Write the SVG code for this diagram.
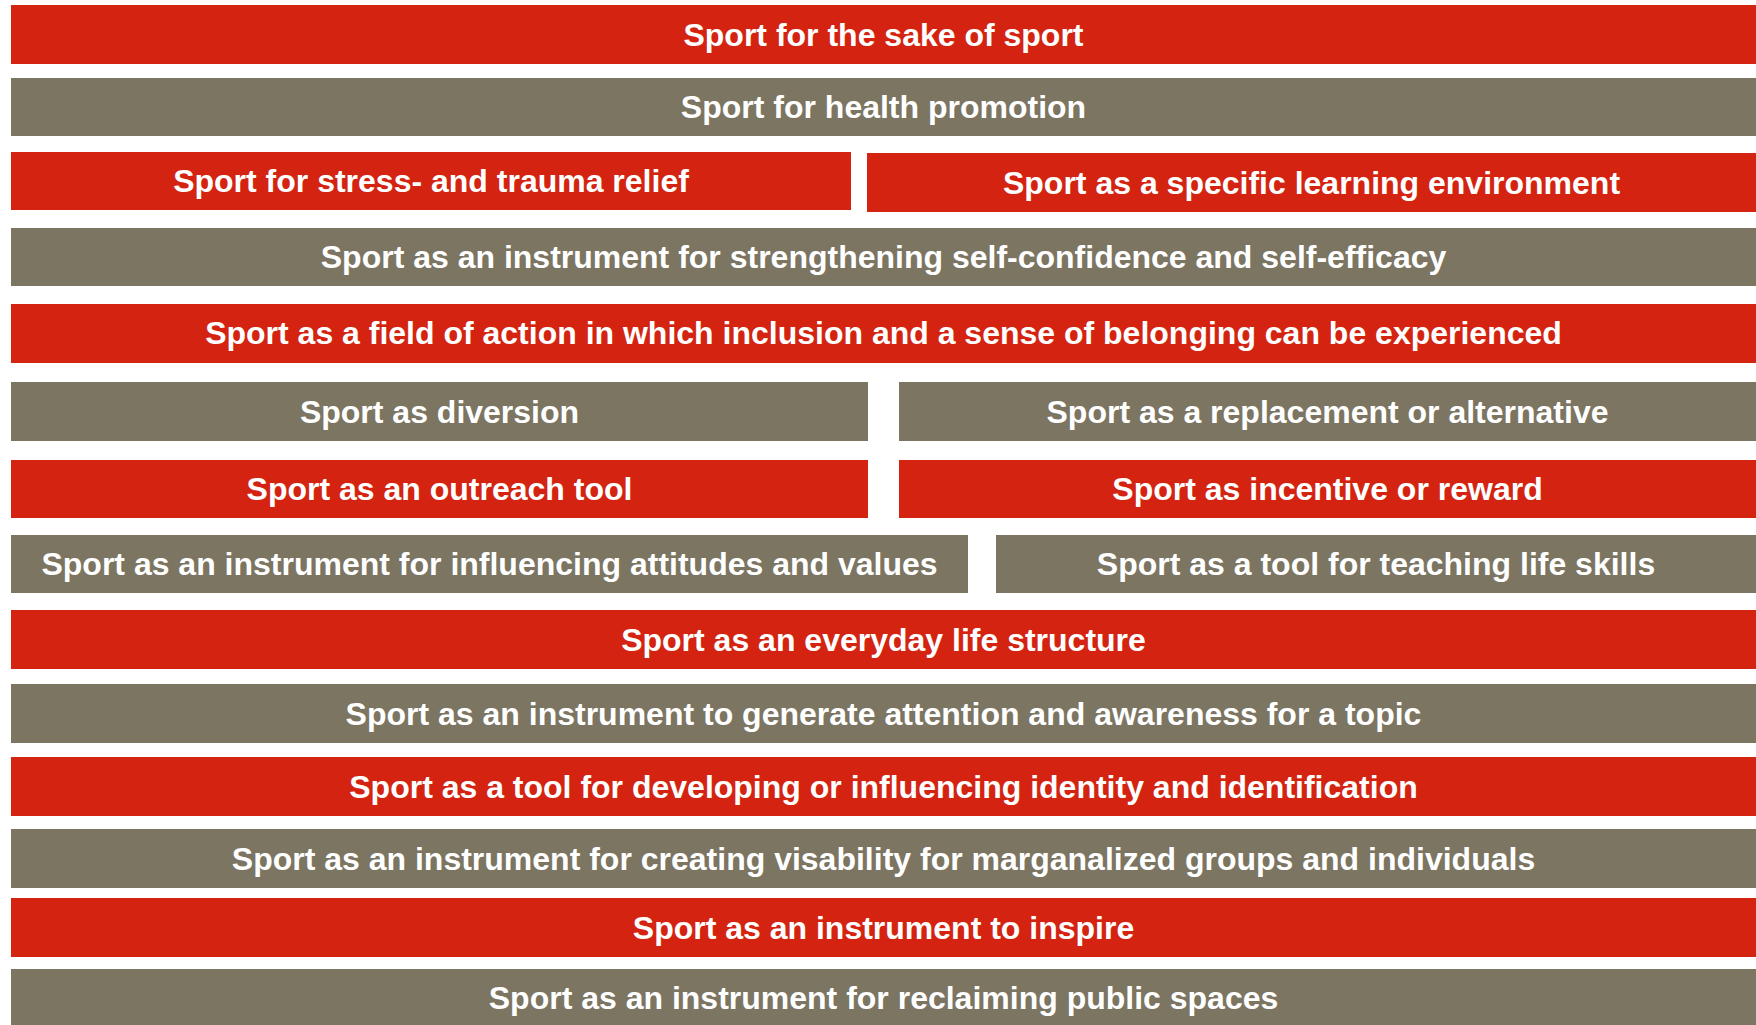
<svg xmlns="http://www.w3.org/2000/svg" width="1756" height="1025" viewBox="0 0 1756 1025">
<style>
.r{fill:#D42411}
.g{fill:#7C7562}
text{font-family:"Liberation Sans",Arial,Helvetica,sans-serif;font-weight:bold;font-size:32px;fill:#FFFFFF;text-anchor:middle}
</style>
<rect width="1756" height="1025" fill="#FFFFFF"/>
<g id="n1"><rect class="r" x="11" y="5" width="1745" height="59"/><text x="883.5" y="46">Sport for the sake of sport</text></g>
<g id="n2"><rect class="g" x="11" y="78" width="1745" height="58"/><text x="883.5" y="117.5">Sport for health promotion</text></g>
<g id="n3"><rect class="r" x="11" y="152" width="840" height="58"/><text x="431" y="192">Sport for stress- and trauma relief</text></g>
<g id="n4"><rect class="r" x="867" y="153" width="889" height="59"/><text x="1311.5" y="193.5">Sport as a specific learning environment</text></g>
<g id="n5"><rect class="g" x="11" y="228" width="1745" height="58"/><text x="883.5" y="267.5">Sport as an instrument for strengthening self-confidence and self-efficacy</text></g>
<g id="n6"><rect class="r" x="11" y="304" width="1745" height="59"/><text x="883.5" y="344">Sport as a field of action in which inclusion and a sense of belonging can be experienced</text></g>
<g id="n7"><rect class="g" x="11" y="382" width="857" height="59"/><text x="439.5" y="422.5">Sport as diversion</text></g>
<g id="n8"><rect class="g" x="899" y="382" width="857" height="59"/><text x="1327.5" y="422.5">Sport as a replacement or alternative</text></g>
<g id="n9"><rect class="r" x="11" y="460" width="857" height="58"/><text x="439.5" y="499.5">Sport as an outreach tool</text></g>
<g id="n10"><rect class="r" x="899" y="460" width="857" height="58"/><text x="1327.5" y="499.5">Sport as incentive or reward</text></g>
<g id="n11"><rect class="g" x="11" y="535" width="957" height="58"/><text x="489.5" y="575">Sport as an instrument for influencing attitudes and values</text></g>
<g id="n12"><rect class="g" x="996" y="535" width="760" height="58"/><text x="1376" y="575">Sport as a tool for teaching life skills</text></g>
<g id="n13"><rect class="r" x="11" y="610" width="1745" height="59"/><text x="883.5" y="650.5">Sport as an everyday life structure</text></g>
<g id="n14"><rect class="g" x="11" y="684" width="1745" height="59"/><text x="883.5" y="724.5">Sport as an instrument to generate attention and awareness for a topic</text></g>
<g id="n15"><rect class="r" x="11" y="757" width="1745" height="59"/><text x="883.5" y="797.5">Sport as a tool for developing or influencing identity and identification</text></g>
<g id="n16"><rect class="g" x="11" y="829" width="1745" height="59"/><text x="883.5" y="869.5">Sport as an instrument for creating visability for marganalized groups and individuals</text></g>
<g id="n17"><rect class="r" x="11" y="898" width="1745" height="59"/><text x="883.5" y="938.5">Sport as an instrument to inspire</text></g>
<g id="n18"><rect class="g" x="11" y="969" width="1745" height="56"/><text x="883.5" y="1008.5">Sport as an instrument for reclaiming public spaces</text></g>
<g id="connectors"/>
</svg>
